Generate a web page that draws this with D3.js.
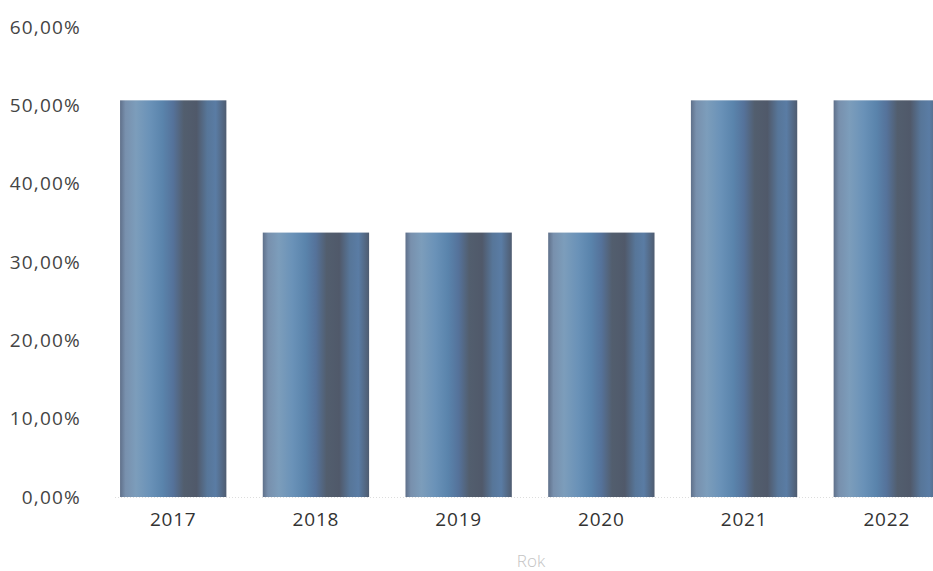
<!DOCTYPE html>
<html><head><meta charset="utf-8">
<script src="https://cdn.jsdelivr.net/npm/d3@7"></script>
<style>body{margin:0;background:#fff;overflow:hidden}svg{display:block}</style>
</head><body>
<svg id="c" width="933" height="571"></svg>
<script>
const categories = ["2017","2018","2019","2020","2021","2022"];
const values = [0.5, 0.3333, 0.3333, 0.3333, 0.5, 0.5];
const yTicks = [0, 0.1, 0.2, 0.3, 0.4, 0.5, 0.6];
const xTitle = "Rok";

const svg = d3.select("#c");
const x = d3.scaleBand().domain(categories).range([101.5, 958.5]).paddingInner(0.255).paddingOuter(0.13);
const y = d3.scaleLinear().domain([0, 0.6]).range([497, 21]);
const yLab = d3.scaleLinear().domain([0, 0.6]).range([497, 27]);

const defs = svg.append("defs");
const g = defs.append("linearGradient").attr("id","bg").attr("x1","0").attr("x2","1").attr("y1","0").attr("y2","0");
[[0,"#5f708a"],[0.05,"#7890ad"],[0.15,"#7c9dbb"],[0.28,"#6a92b8"],[0.4,"#5a84ac"],[0.5,"#55729a"],[0.6,"#525e6e"],[0.72,"#50596a"],[0.82,"#577699"],[0.9,"#5a7ca4"],[1,"#4f5c70"]]
  .forEach(([o,c]) => g.append("stop").attr("offset",o).attr("stop-color",c));

const fmt = v => d3.format(".2f")(v*100).replace(".", ",") + "%";

svg.append("g").selectAll("text").data(yTicks).join("text")
  .attr("x", 81).attr("y", d => yLab(d)).attr("dy","0.35em")
  .attr("text-anchor","end").attr("font-family","Open Sans, sans-serif")
  .attr("font-size",19).attr("letter-spacing",1.2).attr("fill","#444").text(fmt);

svg.append("line").attr("x1",115).attr("x2",933).attr("y1",y(0)+0.5).attr("y2",y(0)+0.5)
  .attr("stroke","#ddd").attr("stroke-dasharray","1,2");

svg.append("g").selectAll("rect").data(values).join("rect")
  .attr("x",(d,i)=>x(categories[i])).attr("width",x.bandwidth())
  .attr("y",d=>y(d)).attr("height",d=>y(0)-y(d)).attr("fill","url(#bg)");

svg.append("g").selectAll("text").data(categories).join("text")
  .attr("x", d => x(d)+x.bandwidth()/2).attr("y", 519).attr("dy","0.35em")
  .attr("text-anchor","middle").attr("font-family","Open Sans, sans-serif")
  .attr("font-size",19).attr("letter-spacing",0.8).attr("fill","#333").text(d=>d);

svg.append("text").attr("x",531).attr("y",561).attr("dy","0.35em")
  .attr("text-anchor","middle").attr("font-family","Open Sans, sans-serif")
  .attr("font-size",17).attr("font-weight",300).attr("fill","#c4c4c4").text(xTitle);
</script>
</body></html>
